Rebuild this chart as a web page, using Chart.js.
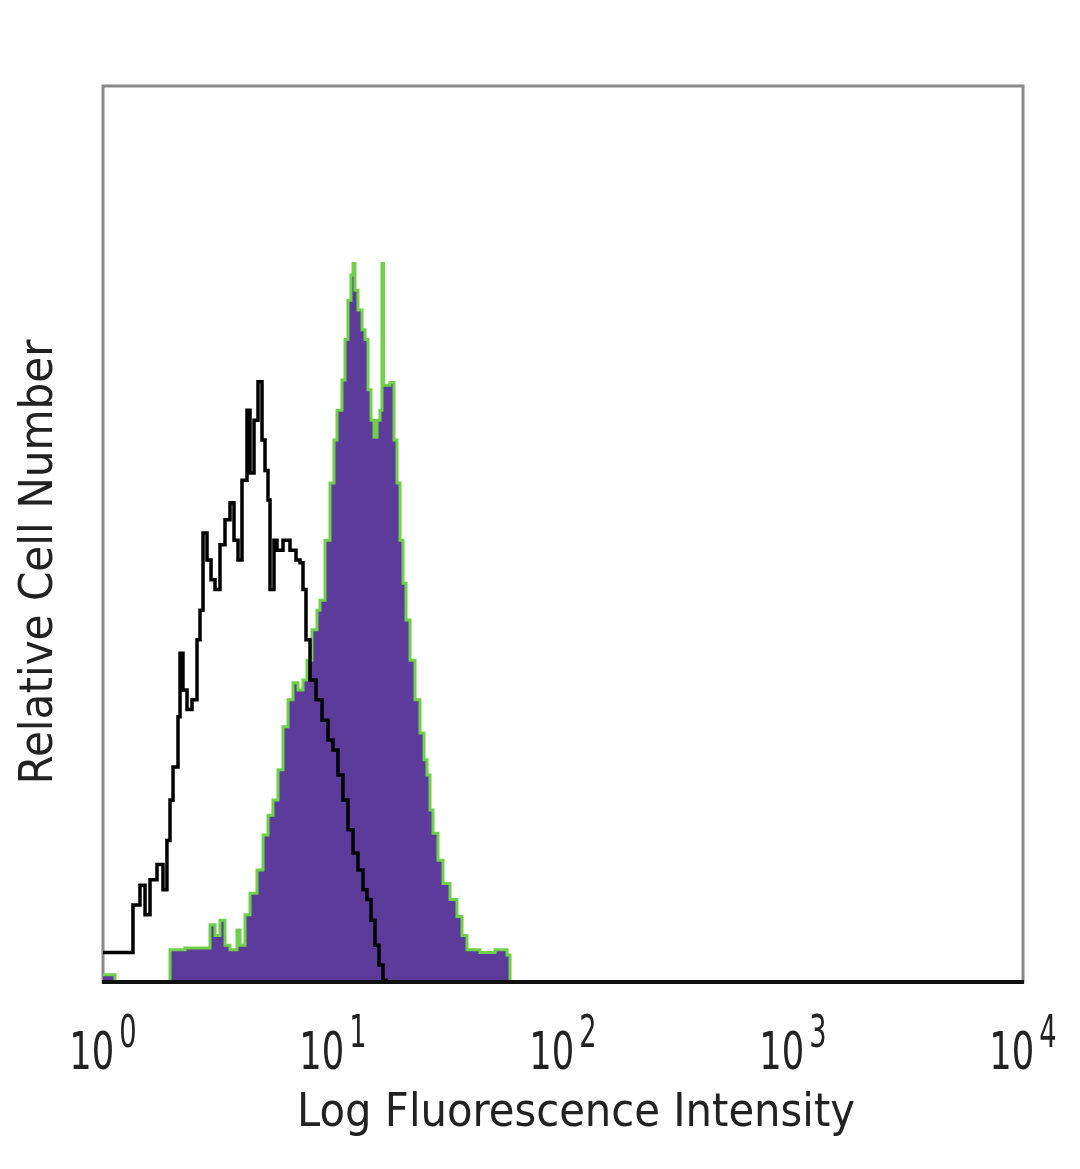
<!DOCTYPE html>
<html>
<head>
<meta charset="utf-8">
<script src="https://cdn.jsdelivr.net/npm/chart.js@4/dist/chart.umd.min.js"></script>
<style>
  html, body { margin: 0; padding: 0; background: #ffffff; }
  #wrap { width: 1080px; height: 1169px; }
</style>
</head>
<body>
<div id="wrap"><canvas id="c" width="1080" height="1169"></canvas></div>
<script>
// Isotype control (black outline histogram)
const controlX = [1, 1.272, 1.350, 1.448, 1.523, 1.601, 1.717, 1.823, 1.897, 1.956, 2.016, 2.119, 2.162, 2.227, 2.319, 2.438, 2.563, 2.641, 2.722, 2.833, 2.949, 3.069, 3.226, 3.392, 3.566, 3.712, 3.864, 4.021, 4.228, 4.357, 4.535, 4.720, 4.913, 5.063, 5.217, 5.323, 5.540, 5.708, 6.063, 6.502, 6.905, 7.188, 7.406, 7.631, 7.943, 8.438, 8.960, 9.512, 10, 10.51, 11.05, 11.62, 12.22, 12.84, 13.50, 14.05, 14.63, 15.23, 15.85, 16.50, 17.00];
const controlY = [3.3, 3.3, 8.6, 10.8, 7.5, 11.4, 13.1, 10.3, 15.8, 20.3, 24.0, 29.6, 36.7, 32.6, 30.4, 31.5, 38.2, 41.5, 50.1, 47.1, 44.9, 43.8, 48.8, 51.6, 53.5, 49.3, 47.1, 56.0, 63.8, 56.8, 62.7, 67.0, 60.5, 57.1, 53.8, 43.8, 49.3, 48.2, 49.3, 48.2, 47.1, 46.8, 43.8, 38.2, 33.7, 31.5, 29.2, 27.0, 25.9, 23.1, 20.3, 17.0, 14.4, 12.5, 10.3, 9.2, 6.9, 4.1, 1.9, 0.2, 0];

// Stained sample (filled histogram)
const stainedX = [1, 1.128, 1.956, 2.273, 2.641, 2.919, 3.069, 3.226, 3.392, 3.566, 3.825, 3.942, 4.144, 4.357, 4.673, 4.963, 5.217, 5.484, 5.766, 6.063, 6.374, 6.702, 7.043, 7.406, 7.709, 8.102, 8.519, 8.780, 9.231, 9.704, 10.10, 10.41, 10.94, 11.28, 11.62, 11.97, 12.22, 12.46, 12.84, 13.37, 13.78, 14.20, 14.63, 15.08, 15.54, 16.01, 16.33, 16.60, 17.69, 18.42, 18.98, 19.56, 20.16, 20.77, 21.62, 22.73, 23.89, 24.87, 25.63, 26.41, 27.22, 28.61, 30.08, 32.27, 34.60, 36.38, 38.25, 43.56, 50.63, 57.09, 58.84];
const stainedY = [0.8, 0, 3.6, 3.8, 3.8, 6.4, 5.2, 6.9, 4.1, 3.6, 5.8, 4.1, 7.5, 9.9, 12.5, 16.4, 18.6, 20.3, 23.7, 28.5, 31.5, 33.4, 32.6, 33.7, 35.9, 39.3, 41.5, 42.6, 49.3, 55.7, 60.5, 63.8, 67.2, 71.7, 76.1, 78.9, 80.2, 77.2, 75.0, 72.8, 71.7, 66.1, 62.7, 60.8, 62.7, 63.8, 80.2, 66.6, 66.9, 60.5, 55.7, 49.3, 44.5, 40.4, 35.9, 31.5, 27.8, 24.8, 23.1, 19.2, 16.6, 13.6, 11.0, 9.2, 7.3, 5.2, 3.6, 3.3, 3.6, 3.0, 0];

const tickValues = [1, 10, 100, 1000, 10000];
const tickBases = ['10', '10', '10', '10', '10'];
const tickExponents = ['0', '1', '2', '3', '4'];
const xTitle = 'Log Fluorescence Intensity';
const yTitle = 'Relative Cell Number';

const controlData = controlX.map((x, i) => ({ x: x, y: controlY[i] }));
const stainedData = stainedX.map((x, i) => ({ x: x, y: stainedY[i] }));

const FONT = '"DejaVu Sans", "Liberation Sans", sans-serif';

const decorPlugin = {
  id: 'decor',
  beforeDatasetsDraw(chart) {
    const ctx = chart.ctx;
    const a = chart.chartArea;
    ctx.save();
    ctx.strokeStyle = '#8a8a8a';
    ctx.lineWidth = 3;
    ctx.strokeRect(a.left, a.top, a.right - a.left, a.bottom - a.top);
    ctx.restore();
  },
  afterDatasetsDraw(chart) {
    const ctx = chart.ctx;
    const a = chart.chartArea;
    const xs = chart.scales.x;
    ctx.save();
    ctx.strokeStyle = '#111111';
    ctx.lineWidth = 4;
    ctx.beginPath();
    ctx.moveTo(a.left - 1, a.bottom);
    ctx.lineTo(a.right + 1, a.bottom);
    ctx.stroke();

    ctx.fillStyle = '#222222';
    ctx.textBaseline = 'alphabetic';
    const bs = 0.68, es = 0.62;
    tickValues.forEach((v, i) => {
      const px = xs.getPixelForValue(v);
      ctx.font = '52px ' + FONT;
      const bw = ctx.measureText(tickBases[i]).width * bs;
      ctx.font = '44px ' + FONT;
      const ew = ctx.measureText(tickExponents[i]).width * es;
      const total = bw + 5 + ew;
      const left = px - total / 2;
      ctx.save();
      ctx.translate(left, 1069);
      ctx.scale(bs, 1);
      ctx.font = '52px ' + FONT;
      ctx.textAlign = 'left';
      ctx.fillText(tickBases[i], 0, 0);
      ctx.restore();
      ctx.save();
      ctx.translate(left + bw + 5, 1047);
      ctx.scale(es, 1);
      ctx.font = '44px ' + FONT;
      ctx.textAlign = 'left';
      ctx.fillText(tickExponents[i], 0, 0);
      ctx.restore();
    });

    ctx.font = '46px ' + FONT;
    ctx.textAlign = 'center';
    ctx.fillText(xTitle, 576, 1126, 558);

    ctx.save();
    ctx.translate(52, 562);
    ctx.rotate(-Math.PI / 2);
    ctx.font = '46px ' + FONT;
    ctx.textAlign = 'center';
    ctx.fillText(yTitle, 0, 0, 445);
    ctx.restore();
    ctx.restore();
  }
};

new Chart(document.getElementById('c'), {
  type: 'line',
  data: {
    datasets: [
      {
        label: 'Isotype control',
        data: controlData,
        stepped: true,
        borderColor: '#000000',
        borderWidth: 3.5,
        backgroundColor: 'rgba(0,0,0,0)',
        fill: false,
        pointRadius: 0,
        order: 0
      },
      {
        label: 'Stained',
        data: stainedData,
        stepped: true,
        borderColor: '#6fd14a',
        borderWidth: 3,
        backgroundColor: '#5d3b9b',
        fill: 'origin',
        pointRadius: 0,
        order: 1
      }
    ]
  },
  options: {
    responsive: false,
    animation: false,
    devicePixelRatio: 1,
    layout: { padding: { left: 103, right: 57, top: 86, bottom: 187 } },
    plugins: { legend: { display: false }, tooltip: { enabled: false } },
    scales: {
      x: { type: 'logarithmic', min: 1, max: 10000, display: false },
      y: { type: 'linear', min: 0, max: 100, display: false }
    }
  },
  plugins: [decorPlugin]
});
</script>
</body>
</html>
